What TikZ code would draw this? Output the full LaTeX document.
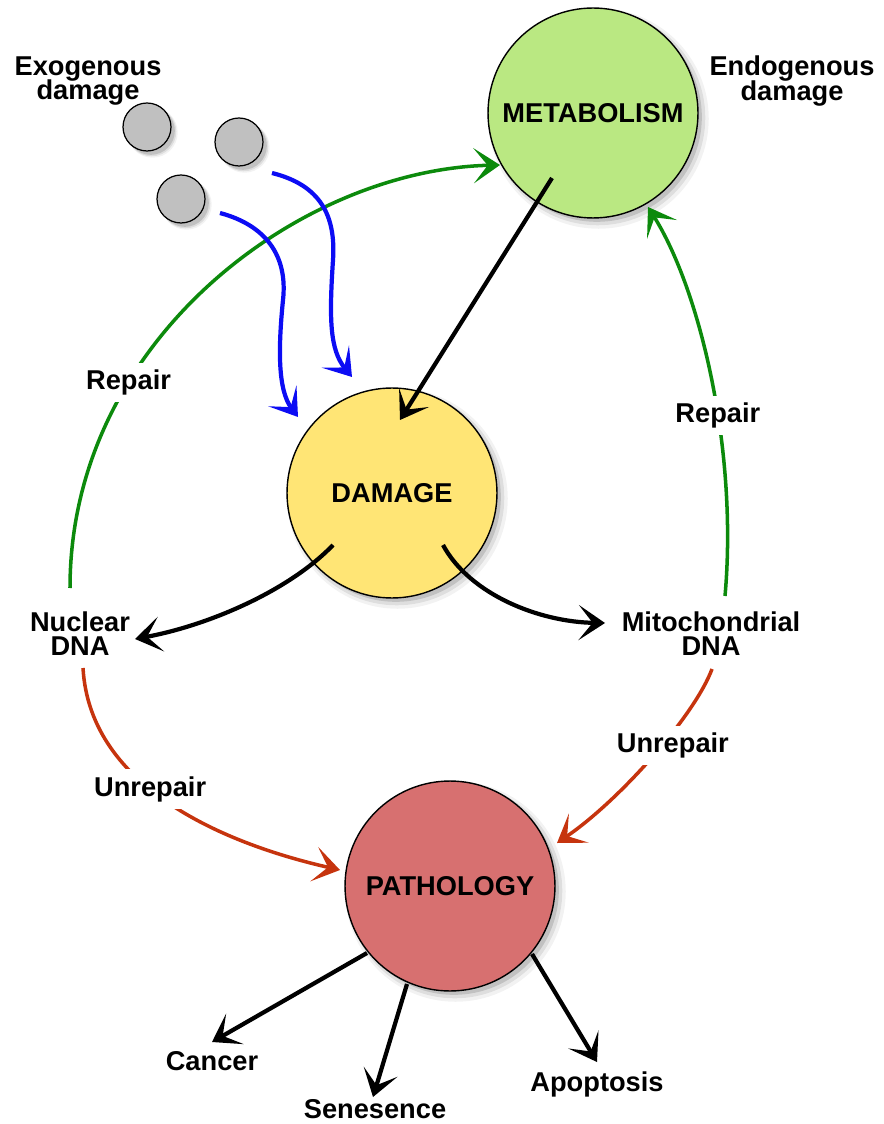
\documentclass[tikz,border=0pt]{standalone}
\usepackage{fontspec}
\setmainfont{Liberation Sans}
\usetikzlibrary{arrows.meta,shadows}
\lineskiplimit=-20pt

\definecolor{metagreen}{RGB}{186,232,130}
\definecolor{damyellow}{RGB}{255,229,117}
\definecolor{pathored}{RGB}{215,112,112}
\definecolor{ballgrey}{RGB}{192,192,192}
\definecolor{repgreen}{RGB}{12,138,12}
\definecolor{unrepred}{RGB}{198,52,14}
\definecolor{extblue}{RGB}{12,12,244}

\tikzset{
  soft/.style={drop shadow={shadow xshift=3pt,shadow yshift=-3pt,shadow scale=1.05,opacity=.1},
               drop shadow={shadow xshift=2.6pt,shadow yshift=-2.6pt,shadow scale=1.025,opacity=.18},
               drop shadow={shadow xshift=2.2pt,shadow yshift=-2.2pt,opacity=.3}},
  txt/.style={font=\bfseries\fontsize{15.5}{13.8}\selectfont, align=center, inner sep=1pt},
  lbl/.style={txt, fill=white, text=black, inner sep=4pt},
  stage/.style={circle, draw, line width=0.8pt, minimum size=4.2cm, txt, soft},
  ball/.style={circle, draw, line width=0.7pt, fill=ballgrey, minimum size=0.96cm, soft},
  tip/.style={-{Stealth[length=15pt,width=20pt,inset=8pt]}},
  blk/.style={tip, line width=2.4pt, black},
  rep/.style={tip, line width=2pt, repgreen},
  unrep/.style={tip, line width=2pt, unrepred},
  ext/.style={tip, line width=2.4pt, extblue},
}

\begin{document}
\begin{tikzpicture}[x=0.02cm,y=-0.02cm]
  \useasboundingbox (0,0) rectangle (883,1124);
  % the three stages
  \node[stage, fill=metagreen] (meta) at (593,113) {METABOLISM};
  \node[stage, fill=damyellow] (dam) at (392,493) {DAMAGE};
  \node[stage, fill=pathored] (patho) at (450,886) {PATHOLOGY};
  %
  \node[ball] (ball1) at (147,127) {};
  \node[ball] (ball2) at (239,142) {};
  \node[ball] (ball3) at (181,199) {};
  \node[txt] (exo) at (88,81) {Exogenous\\damage};
  \node[txt] (endo) at (792,81) {Endogenous\\damage};
  %
  \node[txt] (nuc) at (80,634) {Nuclear\\DNA};
  \node[txt] (mito) at (711,634) {Mitochondrial\\DNA};
  %
  \node[txt] (cancer) at (212,1061) {Cancer};
  \node[txt] (sen) at (375,1109) {Senesence};
  \node[txt] (apo) at (597,1084) {Apoptosis};
  %
  \draw[rep] ([shift={(-10,-46)}]nuc.center) .. controls (70,340) and (300,170) .. ([shift={(-93,52)}]meta.center)
    node[lbl, pos=0.31] (repnuc) {Repair};
  \draw[rep] ([shift={(14,-38)}]mito.center) .. controls (738,450) and (700,290) .. ([shift={(55,94)}]meta.center)
    node[lbl, pos=0.41] (repmito) {Repair};
  %
  \draw[unrep] ([shift={(3,34)}]nuc.center) .. controls (90,790) and (230,845) .. ([shift={(-110,-16)}]patho.center)
    node[lbl, pos=0.42] (unnuc) {Unrepair};
  \draw[unrep] ([shift={(1,35)}]mito.center) .. controls (695,715) and (620,800) .. ([shift={(107,-43)}]patho.center)
    node[lbl, pos=0.44, xshift=0.22cm] (unmito) {Unrepair};
  %
  \draw[ext] ([shift={(33,31)}]ball2.center) .. controls (320,185) and (336,215) .. (333,260)
    .. controls (329,320) and (330,350) .. ([shift={(-40,-116)}]dam.center);
  \draw[ext] ([shift={(39,14)}]ball3.center) .. controls (265,225) and (288,255) .. (283,300)
    .. controls (278,350) and (278,390) .. ([shift={(-94,-76)}]dam.center);
  %
  \draw[blk] ([shift={(-41,65)}]meta.center) -- ([shift={(8,-73)}]dam.center);
  \draw[blk] ([shift={(-59,52)}]dam.center) .. controls (290,590) and (210,625) .. ([shift={(55,5)}]nuc.center);
  \draw[blk] ([shift={(51,52)}]dam.center) .. controls (470,595) and (540,622) .. ([shift={(-106,-11)}]mito.center);
  %
  \draw[blk] ([shift={(-83,67)}]patho.center) -- ([shift={(0,-19)}]cancer.center);
  \draw[blk] ([shift={(-43,98)}]patho.center) -- ([shift={(-2,-12)}]sen.center);
  \draw[blk] ([shift={(82,68)}]patho.center) -- ([shift={(0,-22)}]apo.center);
\end{tikzpicture}
\end{document}
